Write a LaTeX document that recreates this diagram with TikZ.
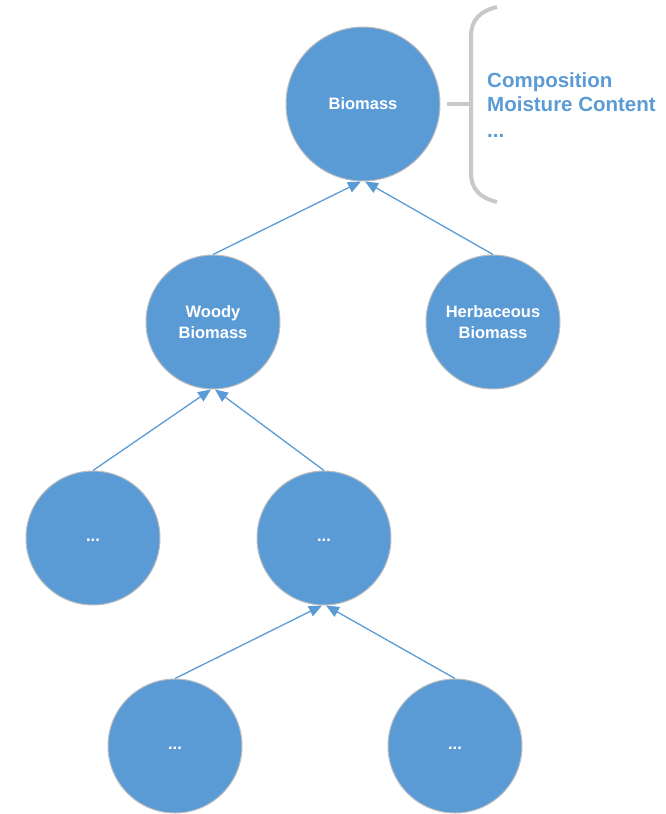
\documentclass[tikz,border=0pt]{standalone}
\usepackage{fontspec}
\setmainfont{Liberation Sans}
\usetikzlibrary{arrows.meta}
\definecolor{nodeblue}{RGB}{91,155,213}
\definecolor{bracegray}{RGB}{200,200,200}
\definecolor{rimgray}{RGB}{190,190,190}
\tikzset{
  bubble/.style={circle, fill=nodeblue, draw=rimgray, line width=1pt, inner sep=0pt,
    text=white, font=\fontsize{16.5}{21}\selectfont\bfseries, align=center},
  big/.style={bubble, minimum size=154pt},
  small/.style={bubble, minimum size=134pt},
  link/.style={draw=nodeblue, line width=1.3pt, -{Triangle[length=13pt,width=11pt]}},
  note/.style={anchor=base west, inner sep=0pt, text=nodeblue, font=\fontsize{20.5}{25}\selectfont\bfseries},
  bracket/.style={draw=bracegray, line width=4pt}
}
\begin{document}
\begin{tikzpicture}[x=1pt,y=-1pt]
\useasboundingbox (0,0) rectangle (666,814);
\node[big] (bio) at (363,104) {Biomass};
\node[small] (wood) at (213,322) {Woody\\Biomass};
\node[small] (herb) at (493,322) {Herbaceous\\Biomass};
\node[small] (a) at (93,538) {\vphantom{Ag}...};
\node[small] (b) at (324,538) {\vphantom{Ag}...};
\node[small] (c) at (175,746) {\vphantom{Ag}...};
\node[small] (d) at (455,746) {\vphantom{Ag}...};

\draw[link] (wood.north) -- ([xshift=-2pt]bio.south);
\draw[link] (herb.north) -- ([xshift=2pt]bio.south);
\draw[link] (a.north) -- ([xshift=-2pt]wood.south);
\draw[link] (b.north) -- ([xshift=2pt]wood.south);
\draw[link] (c.north) -- ([xshift=-2pt]b.south);
\draw[link] (d.north) -- ([xshift=2pt]b.south);

\coordinate (btop) at (497,7);
\coordinate (bbot) at (497,202);
\coordinate (bmid) at (471,104);
\coordinate (tick) at (447,104);
\draw[bracket] (btop) .. controls (480,11) and (471,20) .. (471,36) -- (471,173) .. controls (471,189) and (480,198) .. (bbot);
\draw[bracket] (tick) -- (bmid);

\node[note] (n1) at (487,87) {Composition};
\node[note] (n2) at (487,111) {Moisture Content};
\node[note] (n3) at (487,137) {...};
\end{tikzpicture}
\end{document}
